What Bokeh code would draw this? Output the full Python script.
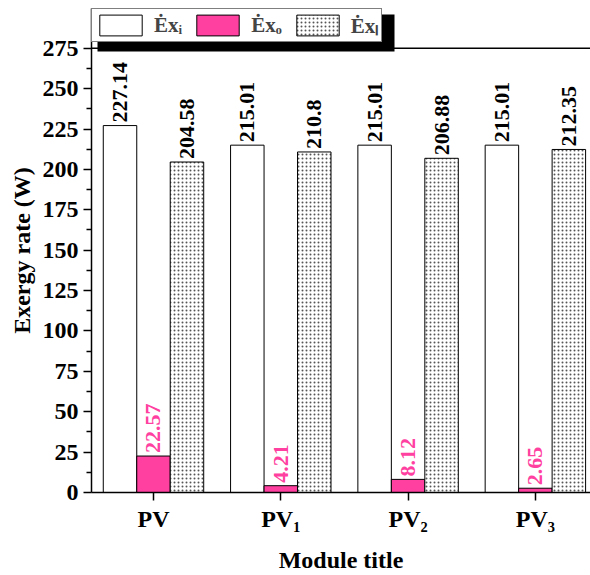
from bokeh.plotting import figure
from bokeh.models import (ColumnDataSource, Range1d, FixedTicker,
                          Legend, LegendItem, Span, BoxAnnotation)
from bokeh.transform import dodge
from bokeh.core.properties import value
from bokeh.embed import file_html
from bokeh.resources import INLINE
import math

# ---- data ----
categories = ["PV", "PV\u2081", "PV\u2082", "PV\u2083"]
ex_i = [227.14, 215.01, 215.01, 215.01]
ex_o = [22.57, 4.21, 8.12, 2.65]
ex_l = [204.58, 210.8, 206.88, 212.35]
series_names = ["\u0116x\u1d62", "\u0116x\u2092", "\u0116x\u2097"]
y_major = [0, 25, 50, 75, 100, 125, 150, 175, 200, 225, 250, 275]
y_minor = [12.5, 37.5, 62.5, 87.5, 112.5, 137.5, 162.5, 187.5, 212.5, 237.5, 262.5]
y_max = 275

FONT = "Liberation Serif"
PINK = "#ff40a0"
W = 0.263
# layout (pixels)
FIG_W, FIG_H = 590, 575
LEFT, TOP, BOTTOM = 91, 8, 80
DATA_H = 447            # pixel height of 0..275
FRAME_H = FIG_H - TOP - BOTTOM
y_top = y_max * FRAME_H / DATA_H   # extra room above 275 for the legend

src = ColumnDataSource(dict(
    x=list(range(len(categories))),
    ex_i=ex_i, ex_o=ex_o, ex_l=ex_l,
    lab_i=[str(v) for v in ex_i],
    lab_o=[str(v) for v in ex_o],
    lab_l=[str(v) for v in ex_l],
))

p = figure(width=FIG_W, height=FIG_H,
           x_range=Range1d(-0.487, 3.433), y_range=Range1d(0, y_top),
           output_backend="svg", toolbar_location=None,
           min_border_left=LEFT, min_border_right=0, min_border_top=TOP,
           min_border_bottom=BOTTOM)
p.grid.visible = False
p.outline_line_color = None
p.background_fill_color = "white"

r_i = p.vbar(x=dodge("x", -W, range=p.x_range), top="ex_i", width=W, source=src,
             fill_color="white", line_color="black", line_width=1)
r_o = p.vbar(x=dodge("x", 0, range=p.x_range), top="ex_o", width=W, source=src,
             fill_color=PINK, line_color="black", line_width=1)
r_l = p.vbar(x=dodge("x", W, range=p.x_range), top="ex_l", width=W, source=src,
             fill_color="white", line_color="black", line_width=1,
             hatch_pattern="dot", hatch_scale=4, hatch_weight=1, hatch_color="#555555")

for col, lab, dx, color in [("ex_i", "lab_i", -W, "black"),
                            ("ex_o", "lab_o", 0, PINK),
                            ("ex_l", "lab_l", W, "black")]:
    p.text(x=dodge("x", dx, range=p.x_range), y=col, text=lab, source=src,
           angle=math.pi / 2, text_align="left", text_baseline="middle",
           y_offset=-3, text_color=color, text_font=value(FONT),
           text_font_style="bold", text_font_size="22px")

# axes
xa = p.xaxis[0]
xa.ticker = FixedTicker(ticks=list(range(len(categories))))
xa.major_label_overrides = {i: c for i, c in enumerate(categories)}
xa.minor_tick_line_color = None
xa.axis_label = "Module title"
ya = p.yaxis[0]
ya.ticker = FixedTicker(ticks=y_major, minor_ticks=y_minor)
ya.axis_label = "Exergy rate (W)"
for ax in (xa, ya):
    ax.axis_line_color = "black"
    ax.axis_line_width = 1.5
    ax.major_tick_line_width = 1.5
    ax.minor_tick_line_width = 1.5
    ax.major_tick_in = 0
    ax.major_tick_out = 8
    ax.minor_tick_in = 0
    ax.minor_tick_out = 5
    ax.major_label_text_font = FONT
    ax.major_label_text_font_style = "bold"
    ax.major_label_text_font_size = "24px"
    ax.major_label_text_color = "black"
    ax.axis_label_text_font = FONT
    ax.axis_label_text_font_style = "bold"
    ax.axis_label_text_font_size = "24px"
    ax.axis_label_text_color = "black"
    ax.major_label_standoff = 5
xa.axis_label_standoff = 12
ya.axis_label_standoff = 5

# top frame line at the top of the value scale
p.add_layout(Span(location=y_max, dimension="width", line_color="black", line_width=1.5))

# legend shadow
p.add_layout(BoxAnnotation(left=LEFT + 6, right=LEFT + 303, top=TOP + 6, bottom=TOP + 43,
                           left_units="canvas", right_units="canvas",
                           top_units="canvas", bottom_units="canvas",
                           fill_color="black", fill_alpha=1, line_color=None,
                           level="overlay"))

legend = Legend(items=[LegendItem(label=series_names[0], renderers=[r_i]),
                       LegendItem(label=series_names[1], renderers=[r_o]),
                       LegendItem(label=series_names[2], renderers=[r_l])],
                orientation="horizontal", location="top_left", margin=0,
                padding=2, spacing=9, glyph_width=53, glyph_height=26,
                label_standoff=7, label_height=20, label_text_font=FONT,
                label_text_font_style="bold", label_text_font_size="21px",
                border_line_color="black", border_line_width=1,
                background_fill_alpha=1, level="overlay")
p.add_layout(legend)

open("out.html", "w").write(file_html(p, INLINE))
